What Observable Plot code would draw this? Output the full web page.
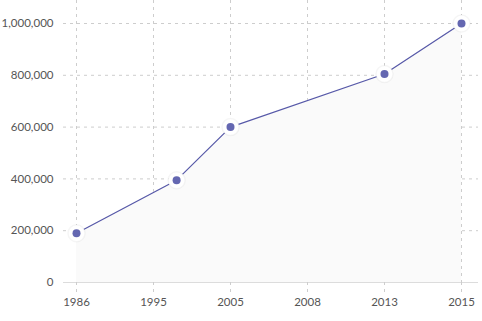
<!DOCTYPE html>
<html><head><meta charset="utf-8">
<script src="https://cdn.jsdelivr.net/npm/d3@7"></script>
<script src="https://cdn.jsdelivr.net/npm/@observablehq/plot@0.6"></script>
<style>body{margin:0;background:#fff;font-family:Lato,sans-serif}</style>
</head><body><div id="chart"></div><script>
const years = [1986, 1998, 2005, 2013, 2015];
const values = [190000, 395000, 600000, 805000, 1000000];
const xTicks = [1986, 1995, 2005, 2008, 2013, 2015];
const yTicks = [0, 200000, 400000, 600000, 800000, 1000000];
const data = years.map((year, i) => ({year, value: values[i]}));

// evenly spaced positions for the (uneven) tick years: piecewise linear x scale
const xLeft = 76, xRight = 461;
const xRange = xTicks.map((_, i) => xLeft + i * (xRight - xLeft) / (xTicks.length - 1));

const gridColor = "#cdcdcd";
const chart = Plot.plot({
  width: 482, height: 321,
  marginLeft: 63, marginRight: 4, marginTop: 0, marginBottom: 39,
  style: {fontFamily: "Lato, sans-serif", fontSize: "11.5px", color: "#555", background: "#fff"},
  x: {type: "linear", domain: xTicks, range: xRange},
  y: {domain: [0, 1000000], insetTop: 23},
  marks: [
    Plot.gridY(yTicks.slice(1), {stroke: gridColor, strokeOpacity: 1, strokeDasharray: "3,4"}),
    Plot.gridX(xTicks, {stroke: gridColor, strokeOpacity: 1, strokeDasharray: "3,4"}),
    Plot.areaY(data, {x: "year", y: "value", fill: "#fafafa"}),
    Plot.ruleY([0], {stroke: "#dcdcdc"}),
    Plot.line(data, {x: "year", y: "value", stroke: "#5658a8", strokeWidth: 1.2}),
    Plot.dot(data, {x: "year", y: "value", r: 8.5, fill: "#fff", stroke: "rgba(0,0,0,0.04)", strokeWidth: 1.5}),
    Plot.dot(data, {x: "year", y: "value", r: 4, fill: "#6467b1"}),
    Plot.axisY(yTicks, {tickSize: 0, tickPadding: 10, tickFormat: d3.format(","), fill: "#555", label: null}),
    Plot.axisX(xTicks, {tickSize: 10, tickPadding: 5, tickFormat: d => String(d), stroke: gridColor, strokeOpacity: 1, strokeDasharray: "3,4", fill: "#555", label: null})
  ]
});
document.getElementById("chart").appendChild(chart);
</script></body></html>
